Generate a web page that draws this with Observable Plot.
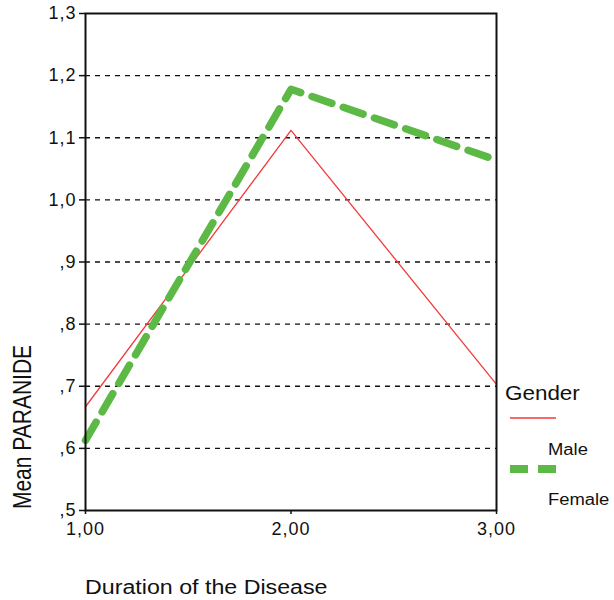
<!DOCTYPE html>
<html>
<head>
<meta charset="utf-8">
<script src="https://cdn.jsdelivr.net/npm/d3@7"></script>
<script src="https://cdn.jsdelivr.net/npm/@observablehq/plot@0.6"></script>
<style>
  body { margin: 0; background: #fff; font-family: "Liberation Sans", Arial, sans-serif; }
  #wrap { position: relative; width: 614px; height: 600px; }
  #wrap svg text { font-size: 18px !important; letter-spacing: 1px; fill: #111; }
  .lbl { position: absolute; white-space: nowrap; color: #111; line-height: 1; }
</style>
</head>
<body>
<div id="wrap"></div>
<script>
const durations = [1, 2, 3];
const maleMeans = [0.667, 1.112, 0.703];
const femaleMeans = [0.613, 1.178, 1.064];
const yTicks = [0.5, 0.6, 0.7, 0.8, 0.9, 1.0, 1.1, 1.2, 1.3];
const gridTicks = [0.6, 0.7, 0.8, 0.9, 1.0, 1.1, 1.2];
const xTicks = [1, 2, 3];

const male = durations.map((d, i) => ({d, v: maleMeans[i]}));
const female = durations.map((d, i) => ({d, v: femaleMeans[i]}));

const fmtY = v => { const s = v.toFixed(1).replace(".", ","); return v < 1 ? s.slice(1) : s; };
const fmtX = v => v.toFixed(2).replace(".", ",");

const chart = Plot.plot({
  width: 614,
  height: 600,
  marginLeft: 85,
  marginRight: 118,
  marginTop: 13,
  marginBottom: 90,
  style: {fontFamily: '"Liberation Sans", Arial, sans-serif', fontSize: "18px", color: "#111"},
  x: {domain: [1, 3]},
  y: {domain: [0.5, 1.3]},
  marks: [
    Plot.gridY(gridTicks, {stroke: "#111", strokeOpacity: 1, strokeWidth: 1.3, strokeDasharray: "5,5"}),
    Plot.line(male, {x: "d", y: "v", stroke: "#f23a3a", strokeWidth: 1.3}),
    Plot.line(female, {x: "d", y: "v", stroke: "#5cb946", strokeWidth: 7.5, strokeDasharray: "21,12", strokeLinejoin: "round"}),
    Plot.frame({stroke: "#111", strokeWidth: 2}),
    Plot.axisY({ticks: yTicks, tickFormat: fmtY, label: null, tickSize: 6, tickPadding: 3, stroke: "#111", strokeWidth: 1.5}),
    Plot.axisX({ticks: xTicks, tickFormat: fmtX, label: null, tickSize: 4, tickPadding: 8, stroke: "#111", strokeWidth: 1.5})
  ]
});
const wrap = document.getElementById("wrap");
wrap.appendChild(chart);

function addLabel(text, css) {
  const el = document.createElement("div");
  el.className = "lbl";
  el.textContent = text;
  Object.assign(el.style, css);
  wrap.appendChild(el);
  return el;
}
// axis titles
addLabel("Duration of the Disease", {left: "85px", top: "578px", fontSize: "19.5px", transform: "scaleX(1.19)", transformOrigin: "left top"});
addLabel("Mean PARANIDE", {left: "22px", top: "427px", fontSize: "21px", transform: "translate(-50%,-50%) rotate(-90deg) scaleY(1.2)", transformOrigin: "center center"});

// legend
addLabel("Gender", {left: "505px", top: "384px", fontSize: "19.5px", transform: "scaleX(1.15)", transformOrigin: "left top"});
addLabel("Male", {left: "548px", top: "442px", fontSize: "16px", transform: "scaleX(1.15)", transformOrigin: "left top"});
addLabel("Female", {left: "548px", top: "492px", fontSize: "16px", transform: "scaleX(1.15)", transformOrigin: "left top"});
const svgNS = "http://www.w3.org/2000/svg";
const leg = document.createElementNS(svgNS, "svg");
leg.setAttribute("width", "60"); leg.setAttribute("height", "70");
leg.style.position = "absolute"; leg.style.left = "505px"; leg.style.top = "410px";
const l1 = document.createElementNS(svgNS, "line");
l1.setAttribute("x1", 5); l1.setAttribute("x2", 51); l1.setAttribute("y1", 8); l1.setAttribute("y2", 8);
l1.setAttribute("stroke", "#f23a3a"); l1.setAttribute("stroke-width", 1.5);
const l2 = document.createElementNS(svgNS, "line");
l2.setAttribute("x1", 5); l2.setAttribute("x2", 51); l2.setAttribute("y1", 59); l2.setAttribute("y2", 59);
l2.setAttribute("stroke", "#5cb946"); l2.setAttribute("stroke-width", 8); l2.setAttribute("stroke-dasharray", "18,10");
leg.appendChild(l1); leg.appendChild(l2);
wrap.appendChild(leg);
</script>
</body>
</html>
